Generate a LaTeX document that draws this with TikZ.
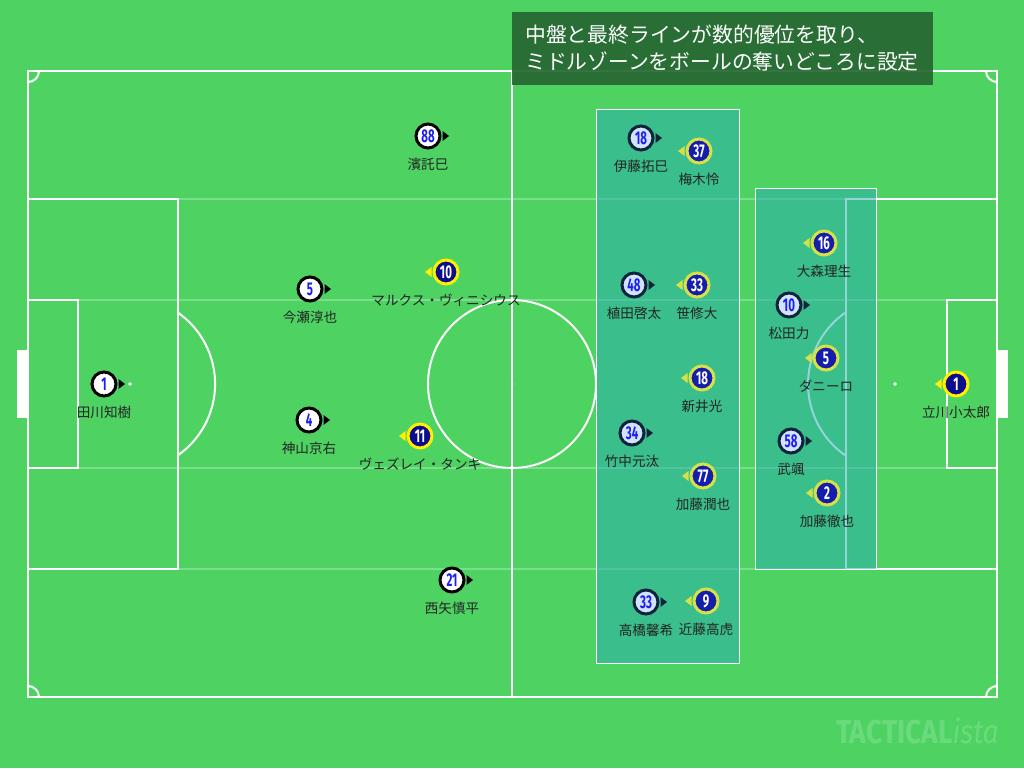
\documentclass[tikz,border=0pt]{standalone}
\usepackage{fontspec}
\setmainfont{Noto Sans CJK JP}
\newfontfamily\numfont{Fira Sans}
\newfontfamily\wmfont{Fira Sans}
\definecolor{pitch}{RGB}{78,211,99}
\definecolor{zonec}{RGB}{40,170,180}
\definecolor{navy}{RGB}{12,12,140}
\definecolor{ylw}{RGB}{255,238,0}
\definecolor{numblue}{RGB}{30,30,240}
\definecolor{lblue}{RGB}{208,228,255}
\definecolor{dnavy}{RGB}{15,35,60}
\definecolor{zylw}{RGB}{215,225,70}
\definecolor{zfill}{RGB}{20,30,170}
\definecolor{titlebg}{RGB}{38,102,50}
\definecolor{lblc}{RGB}{35,35,35}
\newcommand\numtxt[1]{\scalebox{0.62}[1]{\numfont\bfseries\fontsize{18.5}{18.5}\selectfont #1}}
\newcommand\homeP[7]{%
  \node[#1] (#3) at (#4,#5) {\numtxt{#6}};
  \fill[#2] ([xshift=1pt,yshift=5pt]#3.east) -- ([xshift=7.5pt]#3.east) -- ([xshift=1pt,yshift=-5pt]#3.east) -- cycle;
  \node[pname] (#3n) at (#4,#5+28) {#7};
}
\newcommand\awayP[7]{%
  \node[#1] (#3) at (#4,#5) {\numtxt{#6}};
  \fill[#2] ([xshift=-1pt,yshift=5pt]#3.west) -- ([xshift=-7.5pt]#3.west) -- ([xshift=-1pt,yshift=-5pt]#3.west) -- cycle;
  \node[pname] (#3n) at (#4,#5+28) {#7};
}
\begin{document}
\begin{tikzpicture}[x=1pt,y=-1pt,
  fline/.style={draw=white, line width=2pt},
  faint/.style={draw=white, draw opacity=0.25, line width=1.5pt},
  zone/.style={fill=zonec, fill opacity=0.5, draw=white, line width=1pt},
  pc/.style={circle, minimum size=24pt, inner sep=0pt, line width=3pt},
  home/.style={pc, fill=white, draw=black, text=numblue},
  homez/.style={pc, fill=lblue, draw=dnavy, text=numblue},
  away/.style={pc, fill=navy, draw=ylw, text=white},
  awayz/.style={pc, fill=zfill, draw=zylw, text=white},
  pname/.style={font=\fontsize{13.6}{14}\selectfont, text=lblc, inner sep=0pt}]
\useasboundingbox (0,0) rectangle (1024,768);
\fill[pitch] (0,0) rectangle (1024,768);
% faint bands
\foreach \yy in {199,300,468,569} \draw[faint] (28,\yy) -- (997,\yy);
% pitch lines
\draw[fline] (28,71) rectangle (997,697);
\draw[fline] (512,71) -- (512,697);
\draw[fline] (512,384) circle[radius=84];
\fill[white] (512,384) circle[radius=1.5];
\draw[fline] (28,199) rectangle (178,569);
\draw[fline] (28,300) rectangle (78,468);
\draw[fline] (178,455.2) arc[start angle=55, end angle=-55, radius=87];
\fill[white] (130,384) circle[radius=1.8];
\draw[fline] (997,199) rectangle (846,569);
\draw[fline] (997,300) rectangle (947,468);
\draw[fline] (846,455.9) arc[start angle=124.3, end angle=235.7, radius=87];
\fill[white] (895,384) circle[radius=1.8];
\draw[fline] (39,71) arc[start angle=0, end angle=90, radius=11];
\draw[fline] (986,71) arc[start angle=180, end angle=90, radius=11];
\draw[fline] (39,697) arc[start angle=0, end angle=-90, radius=11];
\draw[fline] (986,697) arc[start angle=180, end angle=270, radius=11];
\fill[white] (17,350) rectangle (28,418);
\fill[white] (997,350) rectangle (1008,418);
% zones
\draw[zone] (596,109) rectangle (739,663);
\draw[zone] (755,188) rectangle (876,569);
% home players
\homeP{home}{black}{h1}{104}{384}{1}{田川知樹}
\homeP{home}{black}{h4}{309}{420}{4}{神山京右}
\homeP{home}{black}{h5}{310}{289}{5}{今瀬淳也}
\homeP{home}{black}{h88}{428}{136}{88}{濱託巳}
\homeP{home}{black}{h21}{452}{580}{21}{西矢慎平}
\homeP{homez}{dnavy}{h18}{641}{138}{18}{伊藤拓巳}
\homeP{homez}{dnavy}{h48}{634}{285}{48}{植田啓太}
\homeP{homez}{dnavy}{h34}{632}{433}{34}{竹中元汰}
\homeP{homez}{dnavy}{h33}{646}{602}{33}{高橋馨希}
\homeP{homez}{dnavy}{h10}{789}{305}{10}{松田力}
\homeP{homez}{dnavy}{h58}{791}{441}{58}{武颯}
% away players
\awayP{away}{ylw}{a1}{956}{384}{1}{立川小太郎}
\awayP{away}{ylw}{a10}{446}{272}{10}{マルクス・ヴィニシウス}
\awayP{away}{ylw}{a11}{420}{436}{11}{ヴェズレイ・タンキ}
\awayP{awayz}{zylw}{a37}{699}{151}{37}{梅木怜}
\awayP{awayz}{zylw}{a33}{697}{285}{33}{笹修大}
\awayP{awayz}{zylw}{a18}{702}{378}{18}{新井光}
\awayP{awayz}{zylw}{a77}{703}{476}{77}{加藤潤也}
\awayP{awayz}{zylw}{a9}{706}{601}{9}{近藤高虎}
\awayP{awayz}{zylw}{a16}{824}{243}{16}{大森理生}
\awayP{awayz}{zylw}{a5}{826}{358}{5}{ダニーロ}
\awayP{awayz}{zylw}{a2}{827}{493}{2}{加藤徹也}
% title
\fill[titlebg, fill opacity=0.92] (512,12) rectangle (933,85);
\node[anchor=west, text=white, font=\fontsize{20.8}{27}\selectfont, align=left, inner sep=0pt] (title) at (525,48.5) {中盤と最終ラインが数的優位を取り、\\ミドルゾーンをボールの奪いどころに設定};
% watermark
\node[anchor=west, text=white, text opacity=0.16, inner sep=0pt] (wm) at (836,731) {\scalebox{0.85}[1]{\wmfont\bfseries\fontsize{33}{33}\selectfont TACTICAL}\scalebox{0.85}[1]{\wmfont\itshape\fontsize{33}{33}\selectfont ista}};
\end{tikzpicture}
\end{document}
